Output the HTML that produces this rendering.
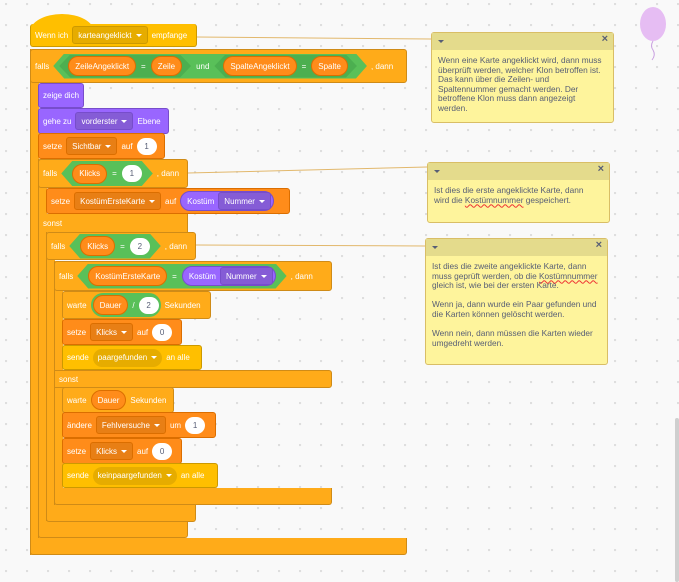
<!DOCTYPE html>
<html><head><meta charset="utf-8"><style>
*{box-sizing:border-box;margin:0;padding:0}
body{width:679px;height:582px;overflow:hidden;position:relative;background:#F9F9F9;
background-image:radial-gradient(circle at 1px 1px,#dcdcdc 0.9px,transparent 1.4px);background-size:21px 21px;background-position:5px 3px;
font-family:"Liberation Sans",sans-serif;font-size:8px;color:#fff}
.b{position:absolute;display:flex;align-items:center;gap:4px;padding-left:4px;border-radius:3px;white-space:nowrap}
.ctl{background:#FFAB19;border:1px solid #CF8B17}
.ctlf{position:absolute;background:#FFAB19}
.var{background:#FF8C1A;border:1px solid #DB6E00}
.look{background:#9966FF;border:1px solid #774DCB}
.ev{background:#FFBF00;border:1px solid #CC9900}
.dd{display:flex;align-items:center;gap:4px;height:18px;padding:0 5px;border-radius:3px;flex-shrink:0}
.dd:after{content:"";border-left:3px solid transparent;border-right:3px solid transparent;border-top:3px solid #fff}
.ddv{background:#E87F15;border:1px solid #DB6E00}
.ddl{background:#855CD6;border:1px solid #774DCB}
.dde{background:#E6AC00;border:1px solid #CC9900}
.ddo{background:#E6AC00;border-radius:9px}
.rep{display:flex;align-items:center;height:20px;padding:0 6px;border-radius:10px;background:#FF8C1A;border:1px solid #DB6E00;flex-shrink:0}
.repl{display:flex;align-items:center;gap:4px;height:20px;padding:0 2px 0 6px;border-radius:10px;background:#9966FF;border:1px solid #774DCB;flex-shrink:0}
.in{display:flex;align-items:center;justify-content:center;height:17px;min-width:20px;padding:0 5px;border-radius:9px;background:#fff;color:#575E75;flex-shrink:0}
.hex{display:flex;align-items:center;gap:5px;height:25px;padding:0 11px;background:#59C059;flex-shrink:0;clip-path:polygon(11px 0,calc(100% - 11px) 0,100% 50%,calc(100% - 11px) 100%,11px 100%,0 50%)}
.hex2{background:#4CAF50;height:23px;padding:0 9px}
.cm{position:absolute;background:#FEF49C;border:1px solid #D9BE66;border-radius:3px;color:#575E75;font-size:8.3px;line-height:9.6px}
.cm .h{height:17px;background:#E4DB8C;position:relative}
.cm .h:before{content:"";position:absolute;left:6px;top:7px;border-left:3px solid transparent;border-right:3px solid transparent;border-top:3px solid #575E75}
.cm .h:after{content:"×";position:absolute;right:5px;top:2px;font-size:11px;font-weight:bold;color:#575E75}
.cm p{padding:6px 10px 0 6px}
</style></head><body>
<svg width="679" height="582" style="position:absolute;left:0;top:0">
<line x1="197" y1="37" x2="431" y2="39" stroke="#E2B86C" stroke-width="1"/>
<line x1="188" y1="173" x2="427" y2="167" stroke="#E2B86C" stroke-width="1"/>
<line x1="196" y1="245" x2="425" y2="246" stroke="#E2B86C" stroke-width="1"/>
<ellipse cx="653" cy="24" rx="13" ry="17" fill="#E6BDF3"/>
<path d="M653 41 q-3 5 0 9 q3 5 -1 10" stroke="#C9A0E0" fill="none" stroke-width="1"/>
<rect x="675" y="418" width="4" height="164" fill="#CFCFCF" rx="2"/>
</svg>

<div style="position:absolute;left:30px;top:14px;width:64px;height:28px;border-radius:32px 32px 0 0/18px 18px 0 0;background:#FFBF00"></div>
<div class="b ev" style="left:30px;top:24px;width:167px;height:23px;border-top:none">Wenn ich <span class="dd dde">karteangeklickt</span> empfange</div>

<div class="ctlf" style="left:30px;top:49px;width:9px;height:506px;border-left:1px solid #CF8B17"></div>
<div class="ctlf" style="left:30px;top:538px;width:377px;height:17px;border:1px solid #CF8B17;border-top:none;border-radius:0 0 3px 3px"></div>
<div class="b ctl" style="left:30px;top:49px;width:377px;height:34px">falls
 <span class="hex" style="padding:0 10px 0 6px"><span class="hex hex2"><span class="rep">ZeileAngeklickt</span>=<span class="rep">Zeile</span></span>und<span class="hex hex2"><span class="rep">SpalteAngeklickt</span>=<span class="rep">Spalte</span></span></span>
 , dann</div>

<div class="b look" style="left:38px;top:83px;width:46px;height:25px">zeige dich</div>
<div class="b look" style="left:38px;top:108px;width:131px;height:26px">gehe zu <span class="dd ddl">vorderster</span> Ebene</div>
<div class="b var" style="left:38px;top:133px;width:127px;height:26px">setze <span class="dd ddv">Sichtbar</span> auf <span class="in">1</span></div>

<div class="ctlf" style="left:38px;top:159px;width:9px;height:379px;border-left:1px solid #CF8B17"></div>
<div class="ctlf" style="left:38px;top:521px;width:150px;height:17px;border:1px solid #CF8B17;border-top:none;border-radius:0 0 3px 3px"></div>
<div class="b ctl" style="left:38px;top:159px;width:150px;height:29px">falls <span class="hex"><span class="rep">Klicks</span>=<span class="in">1</span></span>, dann</div>
<div class="b var" style="left:46px;top:188px;width:244px;height:26px">setze <span class="dd ddv">KostümErsteKarte</span> auf <span class="repl">Kostüm <span class="dd ddl">Nummer</span></span></div>
<div class="b ctl" style="left:38px;top:214px;width:150px;height:18px;border-top:none;border-bottom:none;border-radius:0">sonst</div>

<div class="ctlf" style="left:46px;top:232px;width:9px;height:289px;border-left:1px solid #CF8B17"></div>
<div class="ctlf" style="left:46px;top:505px;width:150px;height:17px;border:1px solid #CF8B17;border-top:none;border-radius:0 0 3px 3px"></div>
<div class="b ctl" style="left:46px;top:232px;width:150px;height:28px">falls <span class="hex"><span class="rep">Klicks</span>=<span class="in">2</span></span>, dann</div>

<div class="ctlf" style="left:54px;top:261px;width:9px;height:244px;border-left:1px solid #CF8B17"></div>
<div class="ctlf" style="left:54px;top:488px;width:278px;height:17px;border:1px solid #CF8B17;border-top:none;border-radius:0 0 3px 3px"></div>
<div class="b ctl" style="left:54px;top:261px;width:278px;height:30px">falls <span class="hex"><span class="rep">KostümErsteKarte</span>=<span class="repl">Kostüm <span class="dd ddl">Nummer</span></span></span>, dann</div>
<div class="b ctl" style="left:62px;top:291px;width:149px;height:28px">warte <span class="hex" style="height:24px;padding:0 2px;border-radius:12px;clip-path:none;gap:4px"><span class="rep">Dauer</span>/<span class="in">2</span></span> Sekunden</div>
<div class="b var" style="left:62px;top:319px;width:120px;height:26px">setze <span class="dd ddv">Klicks</span> auf <span class="in">0</span></div>
<div class="b" style="left:62px;top:345px;width:140px;height:25px;background:#FFBF00;border:1px solid #CC9900">sende <span class="dd ddo">paargefunden</span> an alle</div>
<div class="b ctl" style="left:54px;top:370px;width:278px;height:18px;border-radius:0 3px 3px 0">sonst</div>
<div class="b ctl" style="left:62px;top:387px;width:112px;height:26px">warte <span class="rep">Dauer</span> Sekunden</div>
<div class="b var" style="left:62px;top:412px;width:154px;height:26px">ändere <span class="dd ddv">Fehlversuche</span> um <span class="in">1</span></div>
<div class="b var" style="left:62px;top:438px;width:120px;height:26px">setze <span class="dd ddv">Klicks</span> auf <span class="in">0</span></div>
<div class="b" style="left:62px;top:463px;width:156px;height:25px;background:#FFBF00;border:1px solid #CC9900">sende <span class="dd ddo">keinpaargefunden</span> an alle</div>

<div class="cm" style="left:431px;top:32px;width:183px;height:91px"><div class="h"></div><p>Wenn eine Karte angeklickt wird, dann muss überprüft werden, welcher Klon betroffen ist. Das kann über die Zeilen- und Spaltennummer gemacht werden. Der betroffene Klon muss dann angezeigt werden.</p></div>
<div class="cm" style="left:427px;top:162px;width:183px;height:61px"><div class="h"></div><p>Ist dies die erste angeklickte Karte, dann wird die <u style="text-decoration-color:#e33;text-decoration-style:wavy">Kostümnummer</u> gespeichert.</p></div>
<div class="cm" style="left:425px;top:238px;width:183px;height:127px"><div class="h"></div><p style="padding-right:4px">Ist dies die zweite angeklickte Karte, dann muss geprüft werden, ob die <u style="text-decoration-color:#e33;text-decoration-style:wavy">Kostümnummer</u> gleich ist, wie bei der ersten Karte.<br><br>Wenn ja, dann wurde ein Paar gefunden und die Karten können gelöscht werden.<br><br>Wenn nein, dann müssen die Karten wieder umgedreht werden.</p></div>
</body></html>
